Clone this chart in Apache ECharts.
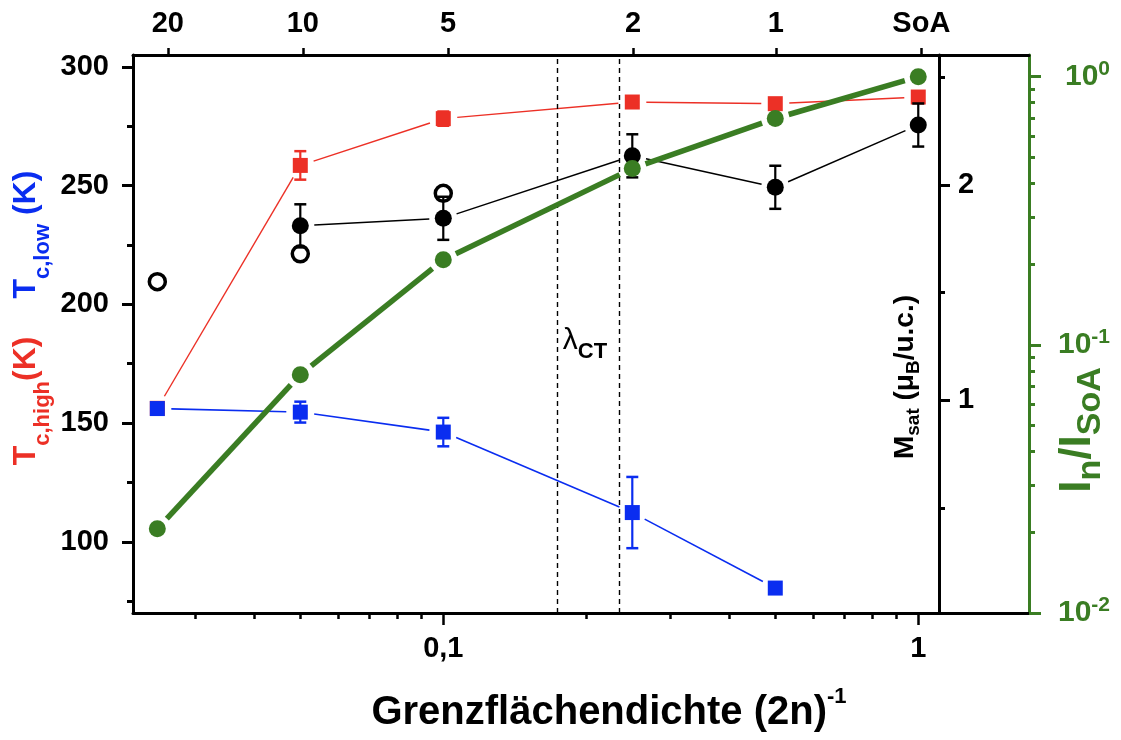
<!DOCTYPE html>
<html>
<head>
<meta charset="utf-8">
<script src="https://cdn.jsdelivr.net/npm/echarts@6/dist/echarts.min.js"></script>
<style>
  html, body { margin: 0; padding: 0; background: #fff; }
  #chart { width: 1121px; height: 740px; }
</style>
</head>
<body>
<div id="chart"></div>
<script>
// Interface density (2n)^-1 of the superlattices; SoA = 1
const density = [0.025, 0.05, 0.1, 0.25, 0.5, 1];

// Curie temperatures (K)
const tcHigh = [156.2, 258.5, 278.2, 285.2, 284.5, 287.3];
const tcHighErr = [0, 6, 3, 2, 0, 0];
const tcLowX = [0.025, 0.05, 0.1, 0.25, 0.5];
const tcLow = [156.1, 154.6, 146.2, 112.3, 80.5];
const tcLowErr = [2, 4.4, 6, 15, 0];

// Saturation magnetisation (muB / u.c.)
const msatX = [0.05, 0.1, 0.25, 0.5, 1];
const msat = [1.81, 1.845, 2.135, 1.989, 2.278];
const msatErr = [0.1, 0.1, 0.1, 0.1, 0.1];
const msatOpenX = [0.025, 0.05, 0.1];
const msatOpen = [1.551, 1.68, 1.961];

// Relative intensity I_n / I_SoA
const intensity = [0.0206, 0.0774, 0.2075, 0.4545, 0.699, 1.0];

// Period n on the top axis
const periodTickPos = [0.0263, 0.0506, 0.1023, 0.251, 0.5016, 1.015];
const periodLabels = ['20', '10', '5', '2', '1', 'SoA'];

// lambda_CT boundaries
const lambdaCT = [0.1718, 0.233];

// Axis ranges and ticks
const densityRange = [0.02222, 1.7106];
const densityMajor = [0.1, 1];
const densityMinor = [0.03, 0.04, 0.05, 0.06, 0.07, 0.08, 0.09, 0.2, 0.3, 0.4, 0.5, 0.6, 0.7, 0.8, 0.9];
const tcRange = [70, 305];
const tcMajor = [100, 150, 200, 250, 300];
const tcMinor = [75, 125, 175, 225, 275];
const msatRange = [0.013, 2.603];
const msatMajor = [1, 2];
const msatMinor = [0.5, 1.5, 2.5];
const intensityRange = [0.01, 1.205];
const intensityMajor = [0.01, 0.1, 1];
const intensityMinor = [0.02, 0.03, 0.04, 0.05, 0.06, 0.07, 0.08, 0.09, 0.2, 0.3, 0.4, 0.5, 0.6, 0.7, 0.8, 0.9];

const FONT = "'Liberation Sans', Arial, Helvetica, sans-serif";
const RED = '#EC3026';
const BLUE = '#0A2DF0';
const GREEN = '#3A7D23';
const BLACK = '#000000';
const GAP = 14;          // lines stop short of the symbols
const lg = Math.log10;

function axisCommon(o) {
  return Object.assign({
    type: 'value',
    gridIndex: 0,
    splitLine: { show: false },
    axisLine: { show: false, onZero: false },
    axisLabel: { show: false },
    axisTick: { show: false }
  }, o);
}

function majorLabel(color, extra) {
  return Object.assign({
    show: true,
    fontSize: 29,
    fontWeight: 'bold',
    fontFamily: FONT,
    color: color
  }, extra);
}

const xAxes = [
  axisCommon({
    position: 'bottom',
    min: lg(densityRange[0]), max: lg(densityRange[1]),
    axisLine: { show: true, onZero: false, lineStyle: { color: BLACK, width: 3 } },
    axisTick: { show: true, length: 12, lineStyle: { color: BLACK, width: 2.5 }, customValues: densityMajor.map(lg) },
    axisLabel: majorLabel(BLACK, {
      margin: 21,
      customValues: densityMajor.map(lg),
      formatter: v => String(+Math.pow(10, v).toPrecision(3)).replace('.', ',')
    })
  }),
  axisCommon({
    position: 'bottom',
    min: lg(densityRange[0]), max: lg(densityRange[1]),
    axisTick: { show: true, length: 6, lineStyle: { color: BLACK, width: 2.5 }, customValues: densityMinor.map(lg) }
  }),
  axisCommon({
    position: 'top',
    min: lg(densityRange[0]), max: lg(densityRange[1]),
    axisLine: { show: true, onZero: false, lineStyle: { color: BLACK, width: 3 } },
    axisTick: { show: true, length: 7, lineStyle: { color: BLACK, width: 2.5 }, customValues: periodTickPos.map(lg) },
    axisLabel: majorLabel(BLACK, {
      margin: 17,
      customValues: periodTickPos.map(lg),
      formatter: v => {
        const i = periodTickPos.findIndex(p => Math.abs(lg(p) - v) < 1e-6);
        return i >= 0 ? periodLabels[i] : '';
      }
    })
  })
];

const yAxes = [
  // 0: T_c (left)
  axisCommon({
    position: 'left',
    min: tcRange[0], max: tcRange[1],
    axisLine: { show: true, onZero: false, lineStyle: { color: BLACK, width: 3 } },
    axisTick: { show: true, length: 11, lineStyle: { color: BLACK, width: 3 }, customValues: tcMajor },
    axisLabel: majorLabel(BLACK, { margin: 24, customValues: tcMajor })
  }),
  axisCommon({
    position: 'left',
    min: tcRange[0], max: tcRange[1],
    axisTick: { show: true, length: 6, lineStyle: { color: BLACK, width: 3 }, customValues: tcMinor }
  }),
  // 2: M_sat (inner right)
  axisCommon({
    position: 'right', offset: -90,
    min: msatRange[0], max: msatRange[1],
    axisLine: { show: true, onZero: false, lineStyle: { color: BLACK, width: 3 } },
    axisTick: { show: true, length: 11, lineStyle: { color: BLACK, width: 3 }, customValues: msatMajor },
    axisLabel: majorLabel(BLACK, { margin: 19, customValues: msatMajor })
  }),
  axisCommon({
    position: 'right', offset: -90,
    min: msatRange[0], max: msatRange[1],
    axisTick: { show: true, length: 6, lineStyle: { color: BLACK, width: 3 }, customValues: msatMinor }
  }),
  // 4: I_n / I_SoA (outer right, logarithmic)
  axisCommon({
    position: 'right', offset: 0,
    min: lg(intensityRange[0]), max: lg(intensityRange[1]),
    axisLine: { show: true, onZero: false, lineStyle: { color: GREEN, width: 3 } },
    axisTick: { show: true, length: 12, lineStyle: { color: GREEN, width: 3 }, customValues: intensityMajor.map(lg) },
    axisLabel: majorLabel(GREEN, {
      margin: 81,
      align: 'right',
      customValues: intensityMajor.map(lg),
      formatter: v => '{b|10}{s|' + Math.round(v) + '}',
      rich: {
        b: { fontSize: 30, fontWeight: 'bold', fontFamily: FONT, color: GREEN },
        s: { fontSize: 21, fontWeight: 'bold', fontFamily: FONT, color: GREEN, padding: [0, 0, 15, 0] }
      }
    })
  }),
  axisCommon({
    position: 'right', offset: 0,
    min: lg(intensityRange[0]), max: lg(intensityRange[1]),
    axisTick: { show: true, length: 6, lineStyle: { color: GREEN, width: 3 }, customValues: intensityMinor.map(lg) }
  })
];

// connecting line, drawn segment by segment with a gap at each symbol
function gapLine(xs, ys, yAxisIndex, color, width, z, ty) {
  const t = ty || (v => v);
  const segs = [];
  for (let i = 0; i + 1 < xs.length; i++) {
    segs.push([lg(xs[i]), t(ys[i]), lg(xs[i + 1]), t(ys[i + 1])]);
  }
  return {
    type: 'custom', xAxisIndex: 0, yAxisIndex, z, silent: true,
    data: segs,
    encode: { x: [0, 2], y: [1, 3] },
    renderItem(params, api) {
      const p1 = api.coord([api.value(0), api.value(1)]);
      const p2 = api.coord([api.value(2), api.value(3)]);
      const dx = p2[0] - p1[0], dy = p2[1] - p1[1];
      const len = Math.hypot(dx, dy);
      if (len <= 2 * GAP) return null;
      const ux = dx / len, uy = dy / len;
      return {
        type: 'line',
        shape: { x1: p1[0] + ux * GAP, y1: p1[1] + uy * GAP, x2: p2[0] - ux * GAP, y2: p2[1] - uy * GAP },
        style: { stroke: color, lineWidth: width }
      };
    }
  };
}

// vertical error bars with caps
function errorBars(xs, ys, errs, yAxisIndex, color, z) {
  const data = [];
  xs.forEach((x, i) => { if (errs[i] > 0) data.push([lg(x), ys[i], errs[i]]); });
  return {
    type: 'custom', xAxisIndex: 0, yAxisIndex, z, silent: true,
    data,
    encode: { x: 0, y: 1 },
    renderItem(params, api) {
      const x = api.value(0), y = api.value(1), e = api.value(2);
      const top = api.coord([x, y + e]);
      const bot = api.coord([x, y - e]);
      const cw = 6;
      return {
        type: 'group',
        children: [
          { type: 'line', shape: { x1: top[0], y1: top[1], x2: bot[0], y2: bot[1] }, style: { stroke: color, lineWidth: 2.2 } },
          { type: 'line', shape: { x1: top[0] - cw, y1: top[1], x2: top[0] + cw, y2: top[1] }, style: { stroke: color, lineWidth: 2.5 } },
          { type: 'line', shape: { x1: bot[0] - cw, y1: bot[1], x2: bot[0] + cw, y2: bot[1] }, style: { stroke: color, lineWidth: 2.5 } }
        ]
      };
    }
  };
}

function markers(name, xs, ys, yAxisIndex, symbol, size, itemStyle, z, ty) {
  const t = ty || (v => v);
  return {
    type: 'scatter', name, xAxisIndex: 0, yAxisIndex, z, silent: true,
    symbol, symbolSize: size,
    itemStyle: Object.assign({ opacity: 1 }, itemStyle),
    data: xs.map((x, i) => [lg(x), t(ys[i])])
  };
}

const series = [
  // lambda_CT region: dashed boundaries and label
  {
    type: 'scatter', xAxisIndex: 0, yAxisIndex: 0, z: 1, silent: true,
    symbolSize: 1, itemStyle: { color: 'rgba(0,0,0,0)', opacity: 1 },
    data: [[lg(0.1987), 184.5]],
    label: {
      show: true, position: 'inside', opacity: 1,
      formatter: '{l|λ}{c|CT}',
      rich: {
        l: { fontSize: 30, fontFamily: FONT, color: BLACK },
        c: { fontSize: 22, fontWeight: 'bold', fontFamily: FONT, color: BLACK, padding: [22, 0, 0, 0] }
      }
    },
    markLine: {
      silent: true, symbol: ['none', 'none'], label: { show: false },
      lineStyle: { color: BLACK, type: [5, 4], width: 1.4, opacity: 1 },
      data: lambdaCT.map(v => ({ xAxis: lg(v) }))
    }
  },
  // T_c,high
  gapLine(density, tcHigh, 0, RED, 1.4, 2),
  errorBars(density, tcHigh, tcHighErr, 0, RED, 2),
  markers('Tc,high', density, tcHigh, 0, 'rect', 15, { color: RED }, 3),
  // T_c,low
  gapLine(tcLowX, tcLow, 0, BLUE, 1.6, 4),
  errorBars(tcLowX, tcLow, tcLowErr, 0, BLUE, 4),
  markers('Tc,low', tcLowX, tcLow, 0, 'rect', 15, { color: BLUE }, 5),
  // M_sat
  markers('Msat (open)', msatOpenX, msatOpen, 2, 'circle', 16,
    { color: 'rgba(0,0,0,0)', borderColor: BLACK, borderWidth: 3.5 }, 6),
  gapLine(msatX, msat, 2, BLACK, 1.5, 6),
  errorBars(msatX, msat, msatErr, 2, BLACK, 7),
  markers('Msat', msatX, msat, 2, 'circle', 17, { color: BLACK }, 8),
  // I_n / I_SoA
  gapLine(density, intensity, 4, GREEN, 5.5, 9, lg),
  markers('In/ISoA', density, intensity, 4, 'circle', 17, { color: GREEN }, 10, lg)
];

// rotated axis titles with sub- and superscripts
function richTitle(text, rich, x, y, rotation) {
  return {
    type: 'text', x, y, rotation, silent: true,
    style: { text, rich, align: 'center', verticalAlign: 'middle', fontFamily: FONT }
  };
}
function rs(size, color, extra) {
  return Object.assign({ fontSize: size, fontWeight: 'bold', fontFamily: FONT, fill: color }, extra);
}

const graphics = [
  richTitle('{rm|T}{rs|c,high}{rm|(K)}{bm0|T}{bs|c,low}{bm| (K)}', {
    rm: rs(32, RED), rs: rs(22, RED, { padding: [34, 0, 0, 0] }),
    bm0: rs(32, BLUE, { padding: [0, 0, 0, 38] }), bm: rs(32, BLUE), bs: rs(22, BLUE, { padding: [34, 0, 0, 0] })
  }, 26, 318, Math.PI / 2),
  richTitle('{m|M}{s|sat}{m| (μ}{s|B}{m|/u.c.)}', {
    m: rs(28, BLACK), s: rs(19, BLACK, { padding: [18, 0, 0, 0] })
  }, 905, 377, Math.PI / 2),
  richTitle('{m|I}{s|n}{m|/I}{s|SoA}', {
    m: rs(44, GREEN), s: rs(34, GREEN, { padding: [26, 0, 0, 0] })
  }, 1078, 430, Math.PI / 2),
  richTitle('{m|Grenzflächendichte (2n)}{s|-1}', {
    m: rs(40, BLACK), s: rs(22, BLACK, { padding: [0, 0, 32, 0] })
  }, 609, 713, 0)
];

const chart = echarts.init(document.getElementById('chart'), null, { renderer: 'canvas' });
chart.setOption({
  animation: false,
  backgroundColor: '#ffffff',
  textStyle: { fontFamily: FONT },
  grid: { left: 133, right: 92, top: 55, bottom: 127, containLabel: false, outerBoundsMode: 'none' },
  xAxis: xAxes,
  yAxis: yAxes,
  series,
  graphic: graphics
});
</script>
</body>
</html>
